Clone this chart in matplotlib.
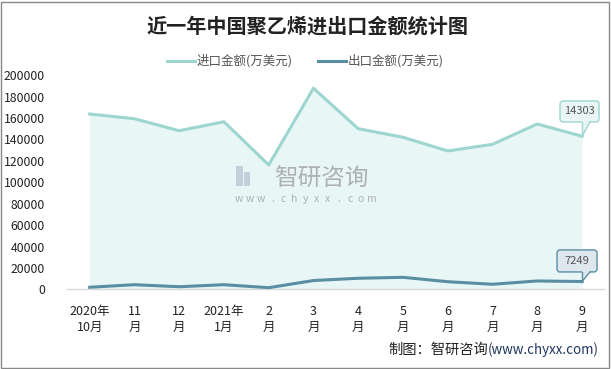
import matplotlib
matplotlib.use("Agg")
import matplotlib.pyplot as plt
from matplotlib.patches import FancyBboxPatch, Polygon, Rectangle
from matplotlib.lines import Line2D
from matplotlib.transforms import IdentityTransform

plt.rcParams['font.family'] = ['Noto Sans CJK SC', 'DejaVu Sans']

categories = ["2020年\n10月", "11\n月", "12\n月", "2021年\n1月", "2\n月", "3\n月",
              "4\n月", "5\n月", "6\n月", "7\n月", "8\n月", "9\n月"]
import_vals = [163800, 159400, 148200, 156600, 116200, 187900,
               150100, 142100, 129300, 135500, 154500, 143030]
export_vals = [1900, 4300, 2400, 4300, 1500, 8200,
               10300, 11200, 7100, 4700, 7800, 7249]
yticks = list(range(0, 200001, 20000))
import_label = "14303"
export_label = "7249"

W, H = 611, 369
fig = plt.figure(figsize=(W / 100, H / 100), dpi=100)
fig.patch.set_facecolor("white")

ax = fig.add_axes([67.3 / W, 1 - 289.3 / H, (604.4 - 67.3) / W, (289.3 - 75.3) / H])
x = list(range(len(categories)))

c_imp = "#9dd6d0"
c_exp = "#5a8ea3"

ax.fill_between(x, 0, import_vals, color="#e9f6f6", zorder=1, linewidth=0)
ax.plot(x, import_vals, color=c_imp, lw=2.2, zorder=3, solid_joinstyle="round")
ax.plot(x, export_vals, color=c_exp, lw=2.2, zorder=3, solid_joinstyle="round")

ax.set_xlim(-0.5, len(categories) - 0.5)
ax.set_ylim(0, 200000)
ax.set_yticks(yticks)
ax.set_yticklabels([str(v) for v in yticks], fontsize=8.8, color="#222")
ax.set_xticks(x)
ax.set_xticklabels(categories, fontsize=9, color="#222", linespacing=1.32)
ax.tick_params(axis="y", length=0, pad=16)
ax.tick_params(axis="x", length=0, pad=11)
for s in ["top", "right", "left"]:
    ax.spines[s].set_visible(False)
ax.spines["bottom"].set_color("#d9d9d9")
ax.spines["bottom"].set_linewidth(1)
ax.set_facecolor("none")


def callout(xi, yv, text, fc, ec, dx0, dx1, dy0, dy1):
    px, py = ax.transData.transform((xi, yv))
    box = FancyBboxPatch((px + dx0, py + dy0), dx1 - dx0, dy1 - dy0,
                         boxstyle="round,pad=0,rounding_size=3",
                         transform=IdentityTransform(), fc=fc, ec=ec, lw=1,
                         zorder=6, clip_on=False)
    fig.add_artist(box)
    tail = Polygon([(px, py + dy0 + 1.2), (px + 8, py + dy0 + 1.2), (px, py)],
                   closed=True, transform=IdentityTransform(), fc=fc, ec="none",
                   zorder=7, clip_on=False)
    fig.add_artist(tail)
    fig.add_artist(Line2D([px, px], [py + dy0, py], transform=IdentityTransform(),
                          color=ec, lw=1, zorder=8))
    fig.add_artist(Line2D([px + 8, px], [py + dy0, py], transform=IdentityTransform(),
                          color=ec, lw=1, zorder=8))
    fig.text((px + (dx0 + dx1) / 2) / W, (py + (dy0 + dy1) / 2) / H, text,
             ha="center", va="center", fontsize=8, color="#555", zorder=9)


n = len(categories) - 1
callout(n, import_vals[n], import_label, "#eaf6f6", c_imp, -22, 17, 14.3, 35.3)
callout(n, export_vals[n], export_label, "#dfe7ee", c_exp, -25, 15, 9.6, 31.6)

# Title
fig.text(307.5 / W, 1 - 26.5 / H, "近一年中国聚乙烯进出口金额统计图", ha="center", va="center",
         fontsize=14.5, fontweight="bold", color="#222")

# Legend
fig.add_artist(Line2D([167 / W, 195 / W], [1 - 61 / H] * 2, color=c_imp, lw=2.2))
fig.text(197 / W, 1 - 61 / H, "进口金额(万美元)", ha="left", va="center", fontsize=9, color="#555")
fig.add_artist(Line2D([318 / W, 346 / W], [1 - 61 / H] * 2, color=c_exp, lw=2.2))
fig.text(348 / W, 1 - 61 / H, "出口金额(万美元)", ha="left", va="center", fontsize=9, color="#555")

# Watermark
fig.add_artist(Rectangle((236 / W, 1 - 186 / H), 7 / W, 20 / H, fc="#aab8cc", ec="none", alpha=0.6, zorder=2))
fig.add_artist(Rectangle((244 / W, 1 - 186 / H), 6 / W, 14 / H, fc="#aab8cc", ec="none", alpha=0.6, zorder=2))
fig.text(321 / W, 1 - 179 / H, "智研咨询", ha="center", va="center", fontsize=17,
         color="#9a9a9a", alpha=0.75, zorder=2)
wm = "www.chyxx.com"
for i, ch in enumerate(wm):
    fig.text((239 + i * (133 / (len(wm) - 1))) / W, 1 - 199 / H, ch, ha="center", va="center",
             fontsize=7.5, color="#9a9a9a", alpha=0.75, zorder=2)

# Source
renderer = fig.canvas.get_renderer()
t1 = fig.text(388 / W, 1 - 350 / H, "制图：智研咨询", ha="left", va="center",
              fontsize=10.3, color="#222")
x_end = t1.get_window_extent(renderer).x1
t2 = fig.text(x_end / W, 1 - 350 / H, "(www.chyxx.com)", ha="left", va="center",
              fontsize=9.6, color="#1f3760")
w2 = t2.get_window_extent(renderer).width
avail = 599 - x_end
if w2 > 0:
    t2.set_fontsize(9.6 * min(1.0, avail / w2))

# Border
fig.add_artist(Rectangle((1 / W, 1 / H), (W - 3) / W, (H - 3) / H, transform=fig.transFigure,
                         fc="none", ec="#888888", lw=1))

fig.savefig("out.png", dpi=100, facecolor="white")
